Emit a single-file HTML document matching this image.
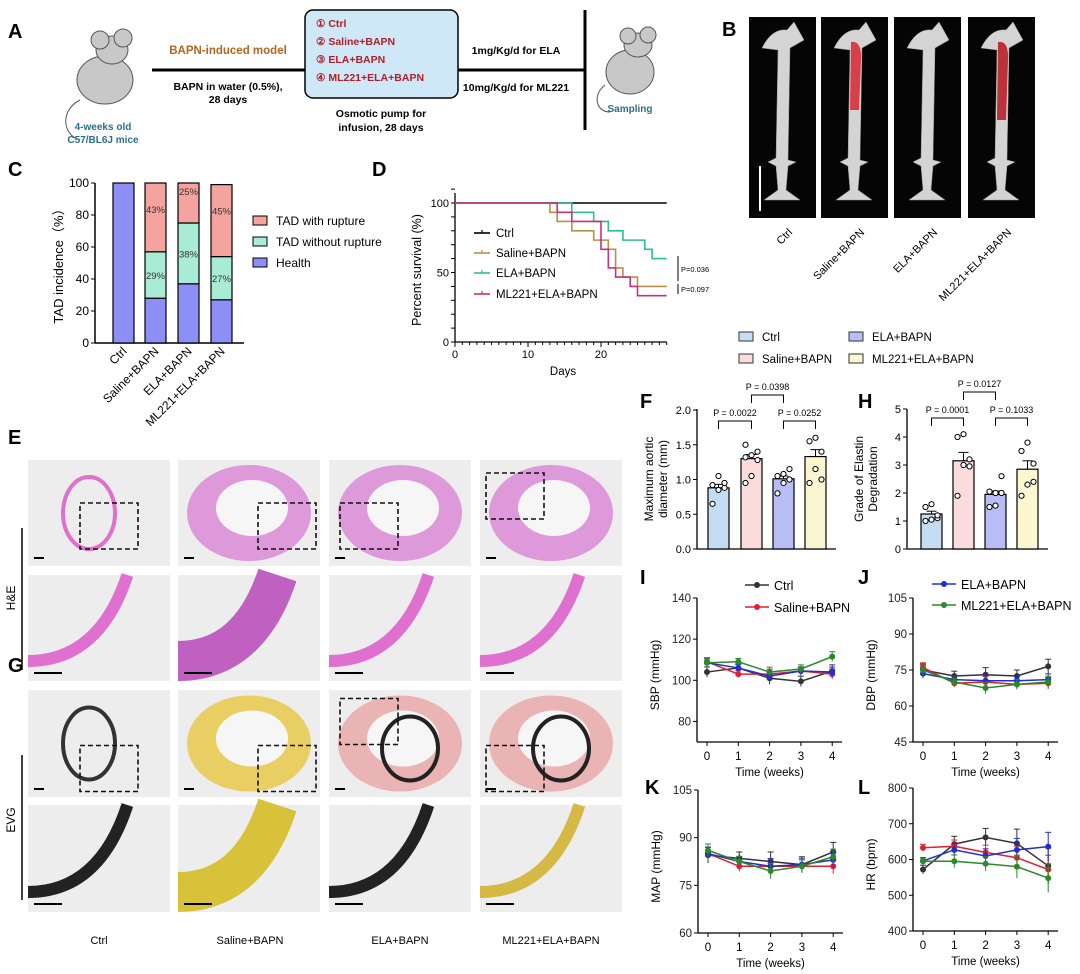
<!DOCTYPE html>
<html><head><meta charset="utf-8"><style>
body{margin:0;background:#fff}
svg{display:block;font-family:"Liberation Sans",Arial,sans-serif}
</style></head><body>
<svg id="fig" width="1080" height="974" viewBox="0 0 1080 974" xmlns="http://www.w3.org/2000/svg">
<!-- Panel A -->
<g>
<text x="8" y="38" font-size="20" font-weight="bold">A</text>
<g fill="#c8c8c8" stroke="#555" stroke-width="1">
<path d="M80,100 C60,110 62,135 80,140" fill="none" stroke="#555"/>
<ellipse cx="105" cy="80" rx="28" ry="24"/>
<ellipse cx="112" cy="50" rx="16" ry="14"/>
<circle cx="100" cy="40" r="9"/><circle cx="123" cy="38" r="9"/>
</g>
<text x="103" y="130" font-size="10" font-weight="bold" fill="#2b6f8a" text-anchor="middle">4-weeks old</text>
<text x="103" y="143" font-size="10" font-weight="bold" fill="#2b6f8a" text-anchor="middle">C57/BL6J mice</text>
<line x1="152" y1="70" x2="305" y2="70" stroke="#000" stroke-width="3"/>
<text x="228" y="54" font-size="11.5" font-weight="bold" fill="#b5651d" text-anchor="middle">BAPN-induced model</text>
<text x="228" y="90" font-size="10.5" font-weight="bold" text-anchor="middle">BAPN in water (0.5%),</text>
<text x="228" y="103" font-size="10.5" font-weight="bold" text-anchor="middle">28 days</text>
<rect x="305" y="10" width="153" height="88" rx="8" fill="#cfe8f8" stroke="#000" stroke-width="1.5"/>
<g font-size="10.5" font-weight="bold" fill="#b0202a">
<text x="316" y="27">① Ctrl</text><text x="316" y="45">② Saline+BAPN</text><text x="316" y="63">③ ELA+BAPN</text><text x="316" y="81">④ ML221+ELA+BAPN</text></g>
<text x="381" y="117" font-size="10.5" font-weight="bold" text-anchor="middle">Osmotic pump for</text>
<text x="381" y="131" font-size="10.5" font-weight="bold" text-anchor="middle">infusion, 28 days</text>
<line x1="458" y1="70" x2="585" y2="70" stroke="#000" stroke-width="3"/>
<line x1="585" y1="10" x2="585" y2="130" stroke="#000" stroke-width="3"/>
<text x="516" y="54" font-size="10.5" font-weight="bold" text-anchor="middle">1mg/Kg/d for ELA</text>
<text x="516" y="91" font-size="10.5" font-weight="bold" text-anchor="middle">10mg/Kg/d for ML221</text>
<g fill="#c8c8c8" stroke="#555" stroke-width="1">
<path d="M605,85 C592,95 596,112 610,112" fill="none" stroke="#555"/>
<ellipse cx="630" cy="72" rx="24" ry="22"/>
<ellipse cx="638" cy="45" rx="14" ry="12"/>
<circle cx="628" cy="36" r="8"/><circle cx="648" cy="35" r="8"/>
</g>
<text x="630" y="112" font-size="10" font-weight="bold" fill="#2b6f8a" text-anchor="middle">Sampling</text>
</g>
<!-- Panel B -->
<g>
<text x="722" y="36" font-size="20" font-weight="bold">B</text>
<g id="bpanels"></g>
</g>
<!-- Panel C -->
<g>
<text x="8" y="176" font-size="20" font-weight="bold">C</text>
<g id="cchart"></g>
</g>
<!-- Panel D -->
<g>
<text x="372" y="176" font-size="20" font-weight="bold">D</text>
<g id="dchart"></g>
</g>
<!-- Panel E/G histology -->
<g>
<text x="8" y="444" font-size="20" font-weight="bold">E</text>
<text x="8" y="672" font-size="20" font-weight="bold">G</text>
<line x1="22" y1="528" x2="22" y2="670" stroke="#000" stroke-width="1.5"/>
<line x1="22" y1="755" x2="22" y2="900" stroke="#000" stroke-width="1.5"/>
<text transform="translate(15,598) rotate(-90)" font-size="12" text-anchor="middle">H&amp;E</text>
<text transform="translate(15,820) rotate(-90)" font-size="12" text-anchor="middle">EVG</text>
<g id="histo"></g>
<g font-size="11" text-anchor="middle">
<text x="99" y="944">Ctrl</text><text x="250" y="944">Saline+BAPN</text><text x="400" y="944">ELA+BAPN</text><text x="551" y="944">ML221+ELA+BAPN</text></g>
</g>
<!-- F / H -->
<g>
<g id="fhlegend"></g>
<text x="640" y="408" font-size="20" font-weight="bold">F</text>
<text x="858" y="408" font-size="20" font-weight="bold">H</text>
<g id="fchart"></g><g id="hchart"></g>
</g>
<g>
<text x="640" y="584" font-size="20" font-weight="bold">I</text>
<text x="858" y="584" font-size="20" font-weight="bold">J</text>
<text x="645" y="794" font-size="20" font-weight="bold">K</text>
<text x="858" y="794" font-size="20" font-weight="bold">L</text>
<g id="lines"></g>
</g>
</svg>
<script>
const NS='http://www.w3.org/2000/svg';
function el(tag,attrs,parent,txt){const e=document.createElementNS(NS,tag);for(const k in attrs)e.setAttribute(k,attrs[k]);if(txt!==undefined)e.textContent=txt;parent.appendChild(e);return e;}

// ---------- Panel C data ----------
const cCategories=['Ctrl','Saline+BAPN','ELA+BAPN','ML221+ELA+BAPN'];
const cHealth=[100,28,37,27];
const cWithout=[0,29,38,27];
const cWith=[0,43,25,45];
const cWithoutLbl=['','29%','38%','27%'];
const cWithLbl=['','43%','25%','45%'];
const cTicks=[0,20,40,60,80,100];

// ---------- Panel D data ----------
const dDays=[0,10,20];
const dTicks=[0,50,100];
const kmSalineT=[13,14,16,19,21,22,23,25];
const kmSalineS=[93.3,86.7,80,73.3,66.7,53.3,46.7,40];
const kmElaT=[16,19,21,23,26,27];
const kmElaS=[93.3,86.7,80,73.3,66.7,60];
const kmMlT=[14,16,20,21,22,24,25];
const kmMlS=[93.3,86.7,66.7,53.3,46.7,40,33.3];

// ---------- Panel F/H data ----------
const fhGroups=['Ctrl','Saline+BAPN','ELA+BAPN','ML221+ELA+BAPN'];
const fMeans=[0.88,1.30,1.01,1.33];
const fSem=[0.05,0.06,0.04,0.10];
const fPoints=[[0.65,0.85,0.88,0.92,1.05,0.95],[0.95,1.05,1.28,1.32,1.35,1.40,1.50],[0.80,0.95,1.00,1.05,1.08,1.15],[0.95,1.15,1.40,1.55,1.60,1.00]];
const fTicks=[0,0.5,1.0,1.5,2.0];
const hMeans=[1.25,3.15,1.95,2.85];
const hSem=[0.1,0.3,0.12,0.3];
const hPoints=[[1.0,1.05,1.1,1.5,1.6,1.2],[1.9,3.0,2.95,4.0,4.1,3.2],[1.5,1.55,2.0,2.05,2.0,2.6],[1.9,2.3,2.4,3.5,3.8,3.05]];
const hTicks=[0,1,2,3,4,5];

// ---------- Panels I-L data ----------
const weeks=[0,1,2,3,4];
const sbpCtrl=[104,106,101,99.5,104.5], sbpSal=[109,103,103,104.5,103], sbpEla=[108.5,106,102,104.5,104], sbpMl=[108.5,109,104,105.5,111.5];
const dbpCtrl=[75,72.5,73,72.5,76.5], dbpSal=[76,69.5,70,69,69.5], dbpEla=[73.5,71,70.5,70.5,71], dbpMl=[75,70,67.5,69,70];
const mapCtrl=[84.5,83.5,82.5,81.5,85.5], mapSal=[85,81,81,81,81], mapEla=[85,82.5,81,81.5,83], mapMl=[86,82.5,79.5,81,84];
const hrCtrl=[572,643,662,645,582], hrSal=[633,637,620,605,572], hrEla=[596,627,610,627,636], hrMl=[595,595,588,580,548];
const errSmall=[2.5,2,3,2.5,3];
const errHr=[12,22,25,40,50];
const sbpTicks=[80,100,120,140], dbpTicks=[45,60,75,90,105], mapTicks=[60,75,90,105], hrTicks=[400,500,600,700,800];

// ===== B =====
(function(){
 const g=document.getElementById('bpanels');
 const xs=[749,821,894,968], red=[null,'#d8303a',null,'#b8202a'];
 const names=['Ctrl','Saline+BAPN','ELA+BAPN','ML221+ELA+BAPN'];
 xs.forEach((x,i)=>{
  const r=el('rect',{x:x,y:17,width:67,height:201,fill:'#050505'},g);
  
  
  const cx=x+33;
  el('path',{d:`M${cx-20},48 Q${cx-10},28 ${cx+5},30 L${cx+12},22 L${cx+22},40 L${cx+8},48 L${cx+6},160 L${cx+14},162 L${cx+6},166 L${cx+4},190 L${cx+18},200 L${cx-18},200 L${cx-4},190 L${cx-6},166 L${cx-14},162 L${cx-6},158 L${cx-4},50 Z`,fill:'#d4d4d4',stroke:'#999','stroke-width':0.5},g);
  if(red[i]) el('path',{d:`M${cx-3},42 Q${cx+8},40 ${cx+7},60 L${cx+5},${i==1?110:120} L${cx-4},${i==1?110:120} Z`,fill:red[i],opacity:0.9},g);
  const t=el('text',{transform:`translate(${x+44},233) rotate(-45)`,'font-size':11,'text-anchor':'end'},g,names[i]);
  
  
 });
 el('line',{x1:760,y1:166,x2:760,y2:211,stroke:'#fff','stroke-width':2},g);
})();

// ===== C =====
(function(){
 const g=document.getElementById('cchart');
 const y=v=>343-v*1.6, bx=[113,145,178,211], bw=21;
 el('line',{x1:95,y1:183,x2:95,y2:343,stroke:'#000','stroke-width':1.5},g);
 el('line',{x1:95,y1:343,x2:244,y2:343,stroke:'#000','stroke-width':1.5},g);
 cTicks.forEach(t=>{el('line',{x1:91,y1:y(t),x2:95,y2:y(t),stroke:'#000'},g);el('text',{x:89,y:y(t)+4,'font-size':12,'text-anchor':'end'},g,t);});
 el('text',{transform:'translate(63,263) rotate(-90)','font-size':13,'text-anchor':'middle'},g,'TAD incidence（%）');
 cCategories.forEach((c,i)=>{
  const h0=cHealth[i],h1=h0+cWithout[i],h2=h1+cWith[i];
  const r1=el('rect',{x:bx[i],y:y(h0),width:bw,height:y(0)-y(h0),fill:'#8c8ff5',stroke:'#000','stroke-width':1.2},g);
  
  
  if(cWithout[i]>0){const r2=el('rect',{x:bx[i],y:y(h1),width:bw,height:y(h0)-y(h1),fill:'#a8ecd6',stroke:'#000','stroke-width':1.2},g);
   
   
   el('text',{x:bx[i]+bw/2,y:(y(h0)+y(h1))/2+4,'font-size':9.5,'text-anchor':'middle',fill:'#333'},g,cWithoutLbl[i]);}
  if(cWith[i]>0){const r3=el('rect',{x:bx[i],y:y(h2),width:bw,height:y(h1)-y(h2),fill:'#f4a39e',stroke:'#000','stroke-width':1.2},g);
   
   
   el('text',{x:bx[i]+bw/2,y:y(h2)+(i==2?12:30),'font-size':9.5,'text-anchor':'middle',fill:'#333'},g,cWithLbl[i]);}
  el('text',{transform:`translate(${bx[i]+bw/2+4},352) rotate(-45)`,'font-size':12,'text-anchor':'end'},g,c);
 });
 const leg=[['TAD with rupture','#f4a39e',221],['TAD without rupture','#a8ecd6',242],['Health','#8c8ff5',263]];
 leg.forEach(l=>{const r=el('rect',{x:253,y:l[2]-5,width:14,height:9,fill:l[1],stroke:'#000'},g);
  
  
  el('text',{x:276,y:l[2]+4,'font-size':12},g,l[0]);});
})();

// ===== D =====
(function(){
 const g=document.getElementById('dchart');
 const x=d=>455+d*7.3, y=p=>342-p*1.39, xe=x(29);
 el('line',{x1:455,y1:193,x2:455,y2:342,stroke:'#000','stroke-width':1.3},g);
 el('line',{x1:455,y1:342,x2:xe,y2:342,stroke:'#000','stroke-width':1.3},g);
 for(let d=0;d<=29;d++){el('line',{x1:x(d),y1:342,x2:x(d),y2:d%10==0?347:345,stroke:'#000'},g);}
 for(let p=0;p<=110;p+=10){el('line',{x1:451,y1:y(p),x2:455,y2:y(p),stroke:'#000'},g);}
 dTicks.forEach(t=>el('text',{x:449,y:y(t)+4,'font-size':11,'text-anchor':'end'},g,t));
 dDays.forEach(t=>el('text',{x:x(t),y:358,'font-size':11,'text-anchor':'middle'},g,t));
 el('text',{x:563,y:375,'font-size':11.5,'text-anchor':'middle'},g,'Days');
 el('text',{transform:'translate(421,270) rotate(-90)','font-size':12.5,'text-anchor':'middle'},g,'Percent survival (%)');
 function km(T,S,col,name){let d=`M${x(0)},${y(100)}`;let prev=100;T.forEach((t,i)=>{d+=` L${x(t)},${y(prev)} L${x(t)},${y(S[i])}`;prev=S[i];});d+=` L${xe},${y(prev)}`;
  const p=el('path',{d:d,fill:'none',stroke:col,'stroke-width':1.6},g);
  
  }
 const c=el('line',{x1:x(0),y1:y(100),x2:xe,y2:y(100),stroke:'#000','stroke-width':1.6},g);
 
 
 km(kmSalineT,kmSalineS,'#b8904a','km-saline');
 km(kmElaT,kmElaS,'#2fbf8f','km-ela');
 km(kmMlT,kmMlS,'#c8307a','km-ml221');
 [['Ctrl','#000',233],['Saline+BAPN','#b8904a',253],['ELA+BAPN','#2fbf8f',273],['ML221+ELA+BAPN','#c8307a',294]].forEach(l=>{
  el('line',{x1:474,y1:l[2],x2:490,y2:l[2],stroke:l[1],'stroke-width':1.6},g);
  el('line',{x1:482,y1:l[2]-3,x2:482,y2:l[2],stroke:l[1],'stroke-width':1.2},g);
  el('text',{x:496,y:l[2]+4,'font-size':11.5},g,l[0]);});
 el('line',{x1:678,y1:256,x2:678,y2:281,stroke:'#000'},g);
 el('text',{x:681,y:272,'font-size':7.5},g,'P=0.036');
 el('line',{x1:678,y1:284,x2:678,y2:294,stroke:'#000'},g);
 el('text',{x:681,y:292,'font-size':7.5},g,'P=0.097');
})();

// ===== Histology =====
(function(){
 const g=document.getElementById('histo');
 const xs=[28,178,329,480], w=142;
 const rows=[[460,106,'he1'],[575,106,'he2'],[690,107,'evg1'],[805,107,'evg2']];
 rows.forEach((r,ri)=>xs.forEach((x,ci)=>{
  const bg=el('rect',{x:x,y:r[0],width:w,height:r[1],fill:'#ededed'},g);
  
  
  const cx=x+w/2, cy=r[0]+r[1]/2;
  const he=ri<2, wall=he?'#e080d0':'#d4b94a';
  if(ri%2==0){
   if(ci==0){el('ellipse',{cx:cx-10,cy:cy,rx:26,ry:36,fill:'none',stroke:he?'#e070cc':'#333','stroke-width':4},g);}
   else{el('ellipse',{cx:cx,cy:cy,rx:62,ry:48,fill:ci==1&&!he?'#e8c94a':(he?'#d98ad6':'#e8a9a8'),opacity:0.85},g);
    el('ellipse',{cx:cx+3,cy:cy-5,rx:36,ry:28,fill:'#f6f6f6'},g);
    if(!he&&ci>=2) el('ellipse',{cx:cx+10,cy:cy+5,rx:28,ry:32,fill:'none',stroke:'#222','stroke-width':4},g);}
   const bx=[ci==0?80:ci==1?258:ci==2?340:486][0];
   el('rect',{x:bx,y:cy-(ri==0?(ci==3?40:10):(ci==2?45:-2)),width:58,height:46,fill:'none',stroke:'#111','stroke-width':1.6,'stroke-dasharray':'5,3'},g);
  } else {
   const col=he?(ci==1?'#c060c0':'#e070d0'):(ci==1?'#d8c23a':(ci==3?'#d6b845':'#222'));
   el('path',{d:`M${x},${r[0]+r[1]-20} Q${x+w*0.5},${r[0]+r[1]-20} ${x+w*0.7},${r[0]}`,fill:'none',stroke:col,'stroke-width':ci==1?40:12},g);
  }
  el('line',{x1:x+6,y1:r[0]+r[1]-8,x2:x+(ri%2?34:16),y2:r[0]+r[1]-8,stroke:'#000','stroke-width':2},g);
 }));
})();

// ===== F/H =====
const fhColors=['#c5ddf3','#fbdcdc','#b9bdf5','#fbf6cf'];
(function(){
 const g=document.getElementById('fhlegend');
 const pos=[[739,337],[739,359],[849,337],[849,359]];
 fhGroups.forEach((n,i)=>{const r=el('rect',{x:pos[i][0],y:pos[i][1]-5,width:14,height:9,fill:fhColors[i],stroke:'#333'},g);
  
  
  el('text',{x:pos[i][0]+23,y:pos[i][1]+4,'font-size':11.5},g,n);});
})();
function barChart(id,ax,ymax,scale,bx,means,sem,pts,ticks,labels,fmt,pvals){
 const g=document.getElementById(id);
 const y=v=>549-v*scale, bw=21;
 el('line',{x1:ax,y1:409,x2:ax,y2:549,stroke:'#000','stroke-width':1.3},g);
 el('line',{x1:ax,y1:549,x2:bx[3]+bw+10,y2:549,stroke:'#000','stroke-width':1.3},g);
 ticks.forEach(t=>{el('line',{x1:ax-4,y1:y(t),x2:ax,y2:y(t),stroke:'#000'},g);el('text',{x:ax-6,y:y(t)+4,'font-size':11,'text-anchor':'end'},g,fmt(t));});
 el('text',{transform:`translate(${ax-44},479) rotate(-90)`,'font-size':12,'text-anchor':'middle'},g,labels[0]);
 el('text',{transform:`translate(${ax-30},479) rotate(-90)`,'font-size':12,'text-anchor':'middle'},g,labels[1]);
 means.forEach((m,i)=>{
  const r=el('rect',{x:bx[i],y:y(m),width:bw,height:y(0)-y(m),fill:fhColors[i],stroke:'#000','stroke-width':1.2},g);
  
  
  const cx=bx[i]+bw/2;
  el('line',{x1:cx,y1:y(m),x2:cx,y2:y(m+sem[i]),stroke:'#000'},g);
  el('line',{x1:cx-5,y1:y(m+sem[i]),x2:cx+5,y2:y(m+sem[i]),stroke:'#000'},g);
  pts[i].forEach((p,j)=>{const c=el('circle',{cx:cx+((j%3)-1)*6,cy:y(p),r:2.6,fill:'#fff',stroke:'#000','stroke-width':1},g);
   
   });
 });
 const c=bx.map(b=>b+bw/2);
 function br(a,b,yy,t){el('path',{d:`M${a},${yy+8} V${yy} H${b} V${yy+8}`,fill:'none',stroke:'#000'},g);el('text',{x:(a+b)/2,y:yy-5,'font-size':9,'text-anchor':'middle'},g,t);}
 br(c[0],c[1],pvals[3],pvals[0]);br(c[2],c[3],pvals[3],pvals[2]);br(c[1],c[2],pvals[3]-26,pvals[1]);
}
barChart('fchart',697,2,69.5,[708,741,773,805],fMeans,fSem,fPoints,fTicks,['Maximum aortic','diameter (mm)'],t=>t.toFixed(1),['P = 0.0022','P = 0.0398','P = 0.0252',421]);
barChart('hchart',907,5,28,[921,953,985,1017],hMeans,hSem,hPoints,hTicks,['Grade of Elastin','Degradation'],t=>t,['P = 0.0001','P = 0.0127','P = 0.1033',418]);

// ===== Line charts =====
const lineCols=['#333','#e02030','#2030d0','#2a8a2a'];
function lineChart(name,ax,top,bot,min,max,ticks,ylabel,series,err,xl){
 const g=document.getElementById('lines');
 const x0=ax+10, dx=31.3;
 const xs=w=>x0+w*dx, y=v=>bot-(v-min)/(max-min)*(bot-top);
 el('line',{x1:ax,y1:top,x2:ax,y2:bot,stroke:'#000','stroke-width':1.3},g);
 el('line',{x1:ax,y1:bot,x2:ax+145,y2:bot,stroke:'#000','stroke-width':1.3},g);
 ticks.forEach(t=>{el('line',{x1:ax-4,y1:y(t),x2:ax,y2:y(t),stroke:'#000'},g);el('text',{x:ax-6,y:y(t)+4,'font-size':11.5,'text-anchor':'end',fill:'#222'},g,t);});
 weeks.forEach(w=>{el('line',{x1:xs(w),y1:bot,x2:xs(w),y2:bot+4,stroke:'#000'},g);el('text',{x:xs(w),y:bot+18,'font-size':11.5,'text-anchor':'middle'},g,w);});
 el('text',{x:xs(2),y:bot+34,'font-size':11.5,'text-anchor':'middle'},g,'Time (weeks)');
 el('text',{transform:`translate(${ax-38},${(top+bot)/2+5}) rotate(-90)`,'font-size':12,'text-anchor':'middle'},g,ylabel);
 series.forEach((s,si)=>{
  const pts=weeks.map(w=>xs(w)+','+y(s[w])).join(' ');
  const pl=el('polyline',{points:pts,fill:'none',stroke:lineCols[si],'stroke-width':1.5},g);
  
  
  weeks.forEach(w=>{const e=err[w]*(si==0?1:0.8);
   el('line',{x1:xs(w),y1:y(s[w]-e),x2:xs(w),y2:y(s[w]+e),stroke:lineCols[si]},g);
   el('line',{x1:xs(w)-3,y1:y(s[w]+e),x2:xs(w)+3,y2:y(s[w]+e),stroke:lineCols[si]},g);
   el('circle',{cx:xs(w),cy:y(s[w]),r:3,fill:lineCols[si]},g);});
 });
}
lineChart('sbp',697,598,742,70,140,sbpTicks,'SBP (mmHg)',[sbpCtrl,sbpSal,sbpEla,sbpMl],errSmall);
lineChart('dbp',913,598,742,45,105,dbpTicks,'DBP (mmHg)',[dbpCtrl,dbpSal,dbpEla,dbpMl],errSmall);
lineChart('map',698,790,933,60,105,mapTicks,'MAP (mmHg)',[mapCtrl,mapSal,mapEla,mapMl],errSmall);
lineChart('hr',913,788,931,400,800,hrTicks,'HR (bpm)',[hrCtrl,hrSal,hrEla,hrMl],errHr);
(function(){
 const g=document.getElementById('lines');
 [['Ctrl',0,745,585],['Saline+BAPN',1,745,607],['ELA+BAPN',2,932,584],['ML221+ELA+BAPN',3,932,605]].forEach(l=>{
  el('line',{x1:l[2],y1:l[3],x2:l[2]+24,y2:l[3],stroke:lineCols[l[1]],'stroke-width':1.5},g);
  const c=el('circle',{cx:l[2]+12,cy:l[3],r:3,fill:lineCols[l[1]]},g);
  
  
  el('text',{x:l[2]+29,y:l[3]+5,'font-size':12.5},g,l[0]);});
})();
</script>
</body></html>
